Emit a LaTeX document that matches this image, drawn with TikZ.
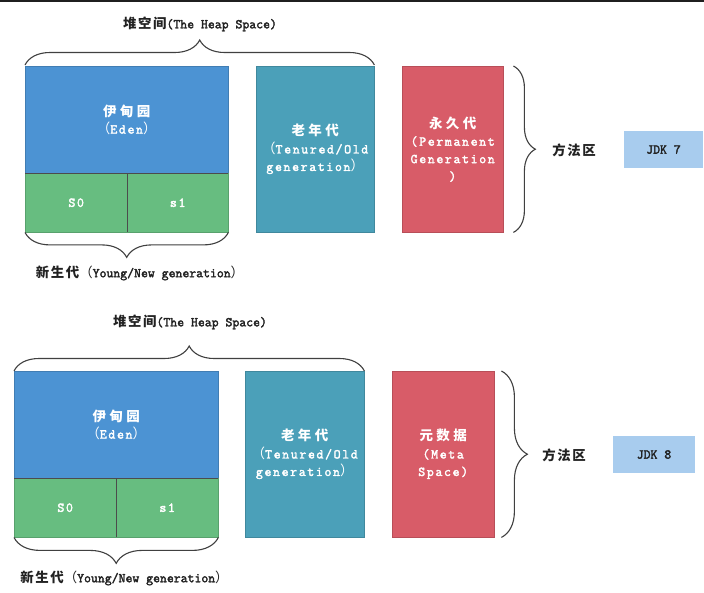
\documentclass[tikz,border=0pt]{standalone}
\usepackage{fontspec}
\setmainfont{Latin Modern Mono}[FakeBold=2.4]
\newfontfamily\boxlat{Latin Modern Mono}[LetterSpace=12,FakeBold=2.4]
\newfontfamily\cjk{Noto Sans CJK SC}[LetterSpace=12]
\newfontfamily\cjkw{Noto Sans CJK SC}[LetterSpace=25]
\newfontfamily\cjkp{Noto Sans CJK SC}
\usetikzlibrary{decorations.pathreplacing}
\definecolor{edenc}{HTML}{4C93D3}
\definecolor{survc}{HTML}{67BD80}
\definecolor{oldc}{HTML}{4BA0B9}
\definecolor{permc}{HTML}{D85C68}
\definecolor{jdkc}{HTML}{A8CCEE}
\definecolor{inkc}{HTML}{222222}
\begin{document}
\begin{tikzpicture}[x=1pt,y=-1pt,
  region/.style={anchor=north west, inner sep=0pt, align=center, text=white,
    font=\fontsize{13.5}{17.5}\selectfont},
  divider/.style={draw=black!70, line width=0.7pt},
  brc/.style={draw=black!75, line width=1.1pt, decorate},
  lbl/.style={text=inkc, font=\fontsize{13.4}{15}\selectfont, inner sep=0pt},
  jdkbox/.style={fill=jdkc, inner sep=0pt, text=inkc, font=\fontsize{13.4}{15}\selectfont}]
\useasboundingbox (0,0) rectangle (704,592);
\fill[white] (0,0) rectangle (704,592);
\fill[black!88] (0,0) rectangle (704,1.5);

% ---------------- JDK 7 ----------------
\node[region, fill=edenc, draw=edenc!85!black, minimum width=203, minimum height=107] (eden1) at (25,66)
  {{\cjkw\bfseries 伊甸园}\\{\cjkp （}{\boxlat Eden}{\cjkp ）}};
\node[region, fill=survc, draw=survc!85!black, minimum width=102, minimum height=59] (s01) at (25,173) {\boxlat S0};
\node[region, fill=survc, draw=survc!85!black, minimum width=101, minimum height=59] (s11) at (127,173) {\boxlat s1};
\draw[divider] (s01.north west) -- (s11.north east);
\draw[divider] (s01.north east) -- (s01.south east);
\node[region, fill=oldc, draw=oldc!85!black, minimum width=118, minimum height=166] (old1) at (256,66)
  {{\cjkw\bfseries 老年代}\\{\cjkp （}{\boxlat Tenured/Old}\\{\boxlat generation}{\cjkp ）}};
\node[region, fill=permc, draw=permc!85!black, minimum width=101, minimum height=166] (perm1) at (402,66)
  {{\cjkw\bfseries 永久代}\\{\boxlat (Permanent}\\{\boxlat Generation}\\{\boxlat )}};

\draw[brc, decoration={brace, amplitude=25pt}] ([yshift=1]eden1.north west) -- ([yshift=1]old1.north east);
\draw[brc, decoration={brace, amplitude=25pt}] (s11.south east) -- (s01.south west);
\draw[brc, decoration={brace, amplitude=22pt}] ([xshift=10]perm1.north east) -- ([xshift=10]perm1.south east);

\node[lbl] (heap1) at (200,24) {{\cjk\bfseries 堆空间}(The Heap Space)};
\node[lbl] (young1) at (140,273) {{\cjk\bfseries 新生代}{\cjkp （}Young/New generation{\cjkp ）}};
\node[lbl] (ma1) at (574,150) {\cjk\bfseries 方法区};
\node[jdkbox, minimum width=79, minimum height=37] (jdk7) at (663.5,149.5) {JDK 7};

% ---------------- JDK 8 ----------------
\node[region, fill=edenc, draw=edenc!85!black, minimum width=204, minimum height=107] (eden2) at (14,371)
  {{\cjkw\bfseries 伊甸园}\\{\cjkp （}{\boxlat Eden}{\cjkp ）}};
\node[region, fill=survc, draw=survc!85!black, minimum width=102, minimum height=59] (s02) at (14,478) {\boxlat S0};
\node[region, fill=survc, draw=survc!85!black, minimum width=102, minimum height=59] (s12) at (116,478) {\boxlat s1};
\draw[divider] (s02.north west) -- (s12.north east);
\draw[divider] (s02.north east) -- (s02.south east);
\node[region, fill=oldc, draw=oldc!85!black, minimum width=119, minimum height=166] (old2) at (245,371)
  {{\cjkw\bfseries 老年代}\\{\cjkp （}{\boxlat Tenured/Old}\\{\boxlat generation}{\cjkp ）}};
\node[region, fill=permc, draw=permc!85!black, minimum width=102, minimum height=166] (meta2) at (392,371)
  {{\cjkw\bfseries 元数据}\\{\boxlat (Meta}\\{\boxlat Space)}};

\draw[brc, decoration={brace, amplitude=25pt}] (eden2.north west) -- (old2.north east);
\draw[brc, decoration={brace, amplitude=26pt}] (s12.south east) -- (s02.south west);
\draw[brc, decoration={brace, amplitude=26pt}] ([xshift=7]meta2.north east) -- ([xshift=7]meta2.south east);

\node[lbl] (heap2) at (190,322) {{\cjk\bfseries 堆空间}(The Heap Space)};
\node[lbl] (young2) at (124.5,578) {{\cjk\bfseries 新生代}{\cjkp （}Young/New generation{\cjkp ）}};
\node[lbl] (ma2) at (564,455) {\cjk\bfseries 方法区};
\node[jdkbox, minimum width=82, minimum height=37] (jdk8) at (654,454.5) {JDK 8};
\end{tikzpicture}
\end{document}
